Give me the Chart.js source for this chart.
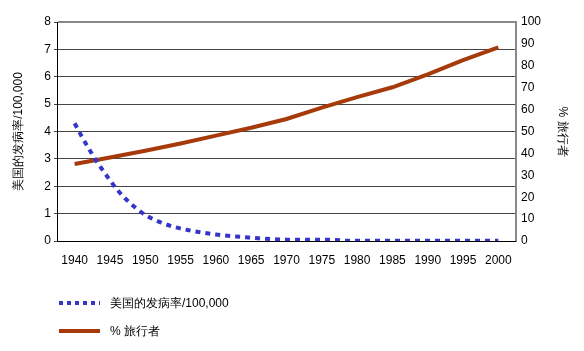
<!DOCTYPE html>
<html>
<head>
  <title>发病率与旅行者</title>
  <script src="https://cdn.jsdelivr.net/npm/chart.js"></script>
  <style>
    body { margin: 0; background: #fff; font-family: "Liberation Sans", Arial, sans-serif; }
    #wrap { position: relative; width: 584px; height: 351px; }
    .leg { position: absolute; left: 59px; font-size: 12px; color: #000; }
    .leg span { position: absolute; left: 0; width: 41px; }
    .leg b { position: absolute; left: 51px; top: -8px; font-weight: normal; white-space: nowrap; }
    #leg-blue { top: 303px; }
    #leg-blue span { top: -2px; height: 4px; background: repeating-linear-gradient(90deg, #3535c8 0 4px, transparent 4px 8px); }
    #leg-red { top: 331px; }
    #leg-red span { top: -2px; height: 4px; background: #a63a0a; }
  </style>
</head>
<body>
  <div id="wrap">
    <canvas id="chart" width="584" height="351"></canvas>
    <div class="leg" id="leg-blue"><span></span><b>美国的发病率/100,000</b></div>
    <div class="leg" id="leg-red"><span></span><b>% 旅行者</b></div>
  </div>

  <script>
    // --- data ---
    const yearTicks = [1940, 1945, 1950, 1955, 1960, 1965, 1970, 1975, 1980, 1985, 1990, 1995, 2000];

    const incidenceYears = [1940, 1941, 1942, 1943, 1944, 1945, 1946, 1947, 1948, 1949, 1950, 1952, 1954, 1956, 1958, 1960, 1962, 1964, 1966, 1968, 1970, 1977, 1978, 2000];
    const incidence = [4.3, 3.82, 3.38, 2.95, 2.58, 2.22, 1.88, 1.6, 1.35, 1.14, 0.95, 0.7, 0.52, 0.4, 0.31, 0.24, 0.18, 0.14, 0.1, 0.07, 0.05, 0.04, 0.01, 0.01];

    const travelYears = [1940, 1945, 1950, 1955, 1960, 1965, 1970, 1975, 1980, 1985, 1990, 1995, 2000];
    const travellers = [35.2, 38.1, 41.2, 44.5, 48.1, 51.7, 55.7, 60.9, 65.7, 70.2, 76.1, 82.6, 88.4];

    const leftLabel = '美国的发病率/100,000';
    const rightLabel = '% 旅行者';

    const font = { family: '"Liberation Sans", Arial, sans-serif', size: 12 };

    // grey frame on the top and right edges of the plot area
    const frame = {
      id: 'frame',
      afterDraw(chart) {
        const c = chart.ctx, a = chart.chartArea;
        const l = Math.round(a.left), t = Math.round(a.top), r = Math.round(a.right), b = Math.round(a.bottom);
        c.save();
        c.strokeStyle = '#888';
        c.lineWidth = 2;
        c.beginPath();
        c.moveTo(l + 1, t);
        c.lineTo(r, t);
        c.lineTo(r, b);
        c.stroke();
        c.restore();
      }
    };

    const ctx = document.getElementById('chart').getContext('2d');
    new Chart(ctx, {
      type: 'line',
      data: {
        datasets: [
          {
            label: leftLabel,
            data: incidenceYears.map((x, i) => ({ x, y: incidence[i] })),
            yAxisID: 'y',
            borderColor: '#3535c8',
            borderWidth: 4,
            borderDash: [5, 5],
            cubicInterpolationMode: 'monotone',
            pointRadius: 0,
            fill: false
          },
          {
            label: rightLabel,
            data: travelYears.map((x, i) => ({ x, y: travellers[i] })),
            yAxisID: 'y1',
            borderColor: '#a63a0a',
            borderWidth: 4,
            pointRadius: 0,
            tension: 0,
            fill: false
          }
        ]
      },
      options: {
        responsive: false,
        animation: false,
        layout: { padding: { left: 7, right: 10, top: 22, bottom: 76 } },
        plugins: { legend: { display: false }, tooltip: { enabled: false } },
        scales: {
          x: {
            type: 'linear',
            min: 1937.5,
            max: 2002.5,
            afterBuildTicks: s => { s.ticks = yearTicks.map(v => ({ value: v })); },
            afterFit: s => { s.height = 34; },
            grid: { display: false, drawTicks: false },
            border: { color: '#000', width: 1 },
            ticks: { color: '#000', font, padding: 12, maxRotation: 0, callback: v => String(v) }
          },
          y: {
            position: 'left',
            min: 0,
            max: 8,
            afterFit: s => { s.width = 50; },
            ticks: { stepSize: 1, color: '#000', font, padding: 3 },
            grid: { color: '#444', lineWidth: 1, tickLength: 3 },
            border: { color: '#000', width: 1 },
            title: { display: true, text: leftLabel, color: '#000', font, padding: 4 }
          },
          y1: {
            position: 'right',
            min: 0,
            max: 100,
            afterFit: s => { s.width = 58; },
            ticks: { stepSize: 10, color: '#000', font, padding: 5 },
            grid: { display: false, drawTicks: false },
            border: { color: '#888', width: 1 },
            title: { display: true, text: rightLabel, color: '#000', font, padding: 4 }
          }
        }
      },
      plugins: [frame]
    });
  </script>
</body>
</html>
